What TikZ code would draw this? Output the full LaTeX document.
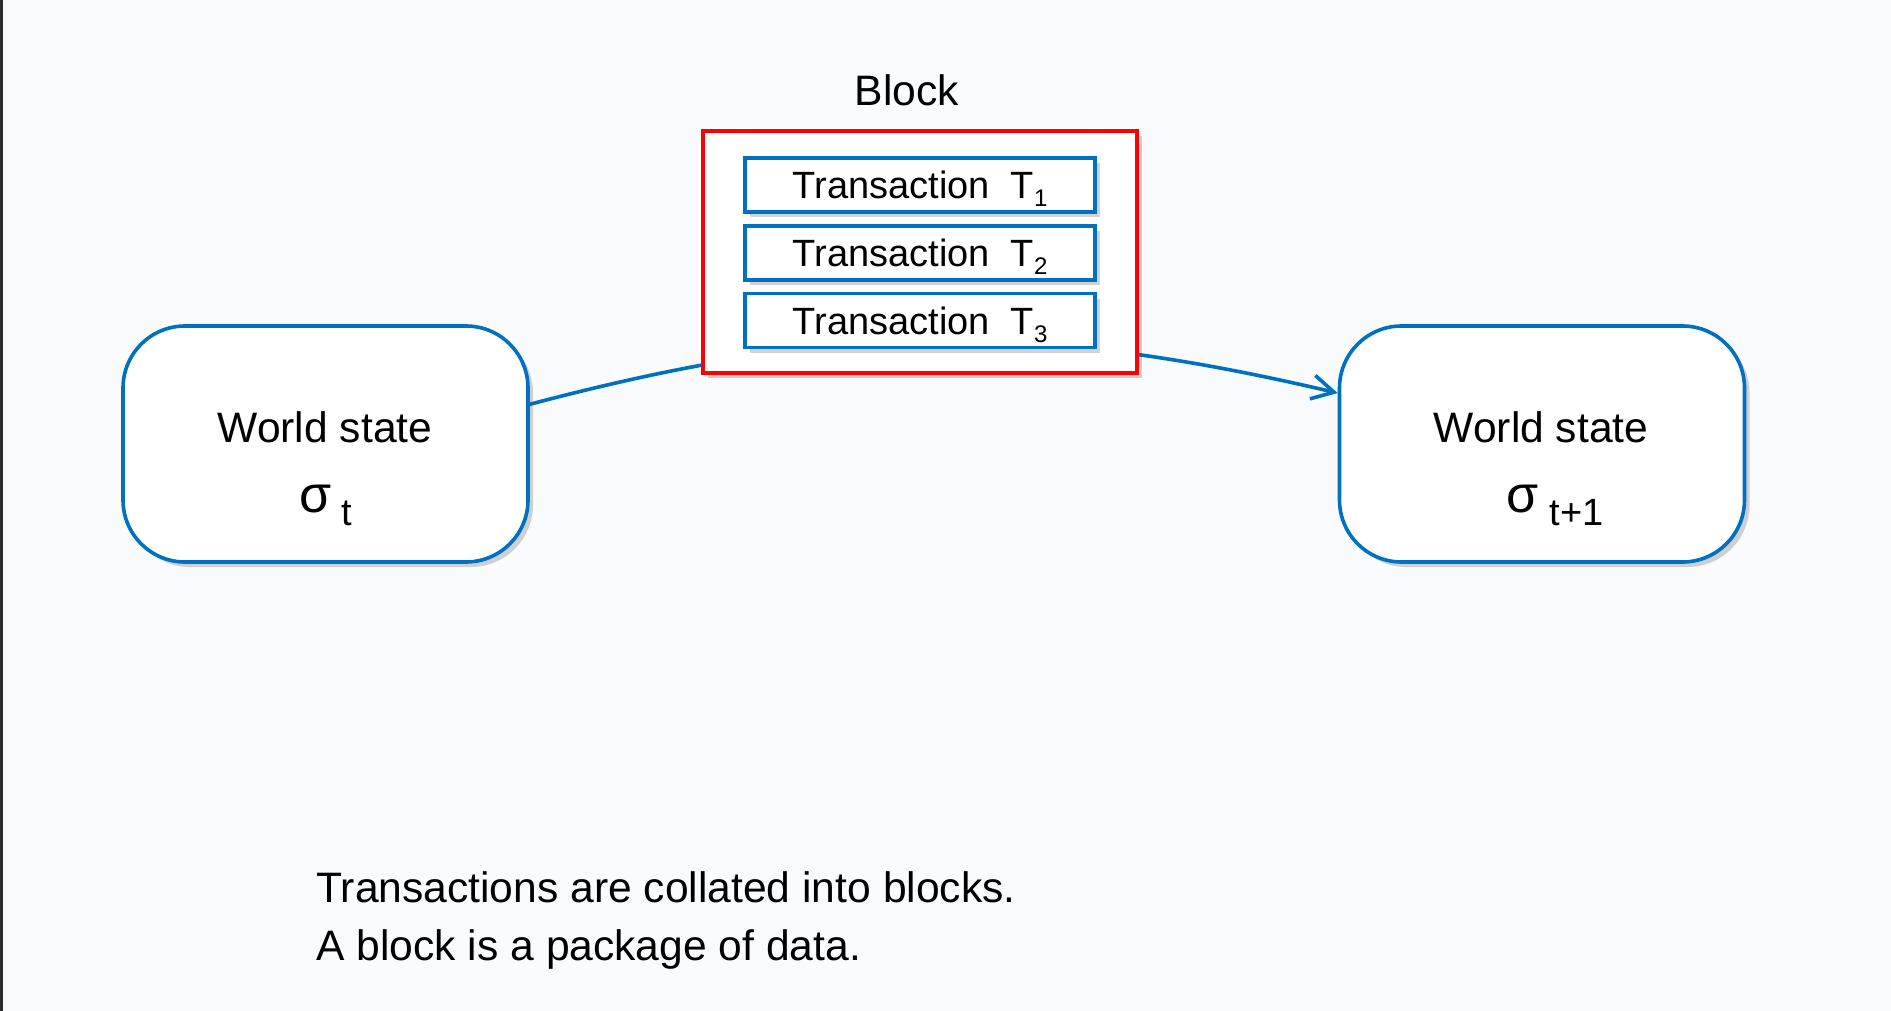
\documentclass[tikz,border=0pt]{standalone}
\usepackage{fontspec}
\setmainfont{Liberation Sans}
\usetikzlibrary{shadows,arrows.meta}
\definecolor{bgc}{HTML}{FAFBFD}
\definecolor{mblue}{HTML}{0070C0}
\definecolor{mred}{HTML}{FF0000}
\definecolor{edgeline}{HTML}{2B2B2B}
\pgfdeclarelayer{back}
\pgfdeclarelayer{conn}
\pgfsetlayers{back,conn,main}
\tikzset{
  shad/.style={drop shadow={shadow xshift=2.5pt, shadow yshift=-2.5pt, opacity=0.25, fill=black!70}},
  wsbox/.style={draw=mblue, line width=1.8pt, fill=white, rounded corners=31pt,
    minimum width=202.5pt, minimum height=118pt, inner sep=0pt, shad},
  blockbox/.style={draw=mred, line width=2pt, fill=white,
    minimum width=217pt, minimum height=121pt, inner sep=0pt, shad},
  txbox/.style={draw=mblue, line width=1.8pt, fill=white,
    minimum width=175pt, minimum height=27pt, inner sep=0pt,
    text height=13.6pt, text depth=0pt, font=\fontsize{19}{22}\selectfont, shad},
  lbl/.style={inner sep=0pt, font=\fontsize{21.3}{25}\selectfont},
  flow/.style={draw=mblue, line width=1.8pt, -{Straight Barb[length=11pt,width=12pt]}}
}
\newcommand{\tsub}[1]{\raisebox{-4pt}{\fontsize{12}{14}\selectfont #1}}
\begin{document}
\begin{tikzpicture}[x=0.5pt,y=-0.5pt]
\begin{pgfonlayer}{back}
  \fill[bgc] (0,0) rectangle (1891,1011);
  \fill[edgeline] (0,0) rectangle (2.5,1011);
\end{pgfonlayer}
\useasboundingbox (0,0) rectangle (1891,1011);

\node[wsbox] (ws1) at (325.5,444) {};
\node[wsbox] (ws2) at (1542,444) {};

\node[lbl, anchor=base] (ws1a) at (325,442) {World state};
\node[inner sep=0pt, anchor=base west] (ws1b) at (299,512)
  {\fontsize{26}{30}\selectfont σ\hspace{5pt}\raisebox{-6.5pt}{\fontsize{19}{22}\selectfont t}};
\node[lbl, anchor=base] (ws2a) at (1541,442) {World state};
\node[inner sep=0pt, anchor=base west] (ws2b) at (1506,512)
  {\fontsize{26}{30}\selectfont σ\hspace{5.5pt}\raisebox{-6.5pt}{\fontsize{19}{22}\selectfont t+1}};

\node[blockbox] (blk) at (920,252) {};
\node[lbl, anchor=base] (blkl) at (907,105) {Block};
\node[txbox] (t1) at (920,185) {Transaction\ \ T\tsub{1}};
\node[txbox] (t2) at (920,253) {Transaction\ \ T\tsub{2}};
\node[txbox] (t3) at (920,320.5) {Transaction\ \ T\tsub{3}};

\begin{pgfonlayer}{conn}
  \draw[flow] (ws1.11) to[bend left=14] (ws2.166);
\end{pgfonlayer}

\node[lbl, anchor=base west] (n1) at (316,902) {Transactions are collated into blocks.};
\node[lbl, anchor=base west] (n2) at (316,960) {A block is a package of data.};
\end{tikzpicture}
\end{document}
